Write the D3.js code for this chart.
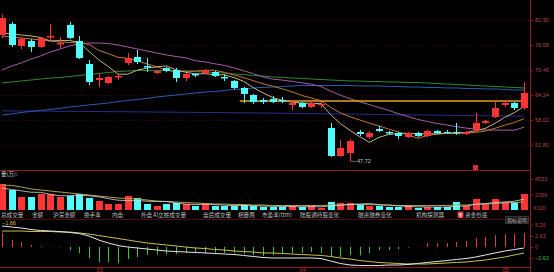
<!DOCTYPE html>
<html>
<head>
<meta charset="utf-8">
<script src="https://cdn.jsdelivr.net/npm/d3@7/dist/d3.min.js"></script>
<style>
html, body { margin: 0; padding: 0; background: #000; overflow: hidden; }
svg { display: block; }
</style>
</head>
<body>
<script>
// daily candles
const opens  = [79.17,81.91,76.43,77.68,76.19,78.55,76.81,81.66,77.68,71.96,67.97,67.23,68.60,72.21,73.70,71.46,69.72,70.96,70.46,68.47,69.47,69.72,69.97,68.72,67.73,65.99,64.24,63.00,63.25,63.00,61.76,62.25,61.26,61.76,56.03,49.07,49.81,55.04,53.79,55.78,55.04,54.79,53.79,54.79,54.04,55.29,55.04,55.04,54.54,55.53,57.28,58.77,61.76,62.25,61.01];
const highs  = [84.40,82.41,78.67,78.18,78.67,81.91,78.67,82.41,78.92,72.95,69.72,68.97,69.22,74.69,75.44,73.45,70.46,71.21,70.96,69.72,69.72,70.71,70.21,69.47,67.97,66.23,64.49,63.50,63.99,63.75,63.00,62.50,62.75,62.50,57.28,53.05,53.30,55.53,55.29,56.53,55.29,55.04,55.04,55.04,55.53,55.53,55.53,57.28,55.29,59.77,58.02,63.00,63.00,62.50,67.48];
const lows   = [78.42,76.19,75.69,74.94,75.94,77.93,75.94,78.18,73.20,66.73,66.23,66.98,67.97,71.71,71.96,69.97,69.47,69.97,67.48,67.73,68.72,69.47,68.72,67.73,65.74,62.25,62.00,62.00,62.25,62.25,60.51,61.01,61.01,61.01,48.82,48.82,47.72,54.04,53.30,55.04,54.29,53.30,53.55,53.79,53.79,54.54,54.54,54.29,54.29,55.04,57.03,58.52,61.26,60.51,60.51];
const closes = [83.40,76.68,78.18,76.19,78.43,78.92,77.18,78.43,73.45,67.48,68.47,68.72,68.97,73.45,72.45,71.09,70.21,70.21,68.47,69.47,69.10,70.46,68.97,68.35,65.99,64.49,62.50,62.50,62.50,62.63,62.25,61.26,62.25,62.00,49.07,51.06,52.80,54.54,54.79,55.29,54.66,54.04,54.79,54.04,55.29,54.79,54.79,54.79,55.04,57.28,57.77,61.01,62.25,61.01,64.74];

// moving averages shown on the price panel
const ma5   = [79.67,79.42,79.17,78.92,78.57,77.68,77.78,77.83,77.28,75.09,73.00,71.31,69.42,69.42,70.41,70.94,71.24,71.48,70.49,69.89,69.49,69.54,69.29,69.27,68.57,67.65,66.06,64.77,63.60,62.93,62.48,62.23,62.18,62.08,59.37,57.13,55.44,53.89,52.45,53.70,54.42,54.67,54.72,54.57,54.57,54.59,54.74,54.74,54.94,55.34,55.93,57.18,58.67,59.86,61.36];
const ma10  = [78.92,78.67,78.43,78.18,77.93,77.68,77.43,77.31,77.18,76.83,75.34,74.54,73.62,73.35,72.75,71.97,71.27,70.45,69.95,70.15,70.21,70.39,70.39,69.88,69.23,68.57,67.80,67.03,66.43,65.75,65.06,64.14,63.47,62.84,61.15,59.80,58.83,58.04,57.26,56.53,55.77,55.05,54.30,53.51,54.13,54.50,54.70,54.73,54.75,54.95,55.26,55.96,56.71,57.40,58.35];
const ma20  = [70.46,71.46,72.21,73.20,73.95,74.94,75.69,76.43,77.06,77.18,77.18,77.06,76.68,76.19,75.69,75.19,74.69,74.20,73.82,73.50,72.78,72.47,72.01,71.61,70.99,70.27,69.54,68.75,68.20,67.95,67.64,67.27,66.93,66.36,65.19,64.19,63.32,62.53,61.86,61.13,60.41,59.59,58.89,58.17,57.64,57.15,56.77,56.38,56.01,55.73,55.51,55.51,55.51,55.46,56.23];
const ma60  = [67.23,67.48,67.73,67.97,68.22,68.47,68.60,68.85,69.10,69.34,69.59,69.84,70.09,70.21,70.34,70.34,70.34,70.34,70.21,70.21,70.09,69.97,69.84,69.72,69.47,69.34,69.10,68.97,68.72,68.60,68.47,68.35,68.22,68.10,67.97,67.85,67.73,67.73,67.60,67.60,67.48,67.48,67.35,67.35,67.23,67.10,66.98,66.86,66.73,66.61,66.48,66.36,66.23,66.11,65.99];
const ma120 = [59.27,59.52,59.89,60.14,60.39,60.64,60.89,61.26,61.51,61.76,62.00,62.25,62.63,62.88,63.12,63.37,63.75,63.99,64.24,64.49,64.74,64.99,65.11,65.36,65.61,65.74,65.99,66.11,66.23,66.36,66.48,66.61,66.61,66.61,66.61,66.61,66.61,66.48,66.48,66.48,66.36,66.36,66.23,66.23,66.11,66.11,65.99,65.99,65.86,65.86,65.74,65.74,65.61,65.49,65.49];
const ma250 = [60.30,60.28,60.26,60.25,60.23,60.21,60.19,60.17,60.16,60.14,60.12,60.10,60.08,60.06,60.04,60.02,60.00,59.98,59.96,59.94,59.92,59.90,59.88,59.85,59.83,59.80,59.78,59.75,59.72,59.70,59.67,59.64,59.61,59.58,59.55,59.52,59.49,59.46,59.43,59.40,59.37,59.34,59.31,59.28,59.25,59.22,59.19,59.16,59.13,59.10,59.08,59.06,59.04,59.02,59.00];
const levelPrice = 62.75, levelFrom = 25;
const priceTicks = [82.90, 76.68, 70.46, 64.24, 58.02, 51.80];

// volume (x100)
const vols    = [3801,2924,1901,1901,2339,2339,1901,2047,2339,1754,1316,877,877,2047,1754,877,585,877,1023,877,585,877,585,585,585,731,585,439,439,439,585,439,585,292,1170,1023,1023,877,585,585,439,439,585,292,439,439,439,1170,585,1608,877,1608,1170,1170,2339];
const volMa5  = [3200,3000,2800,2600,2580,2280,2080,2090,2170,2080,1930,1660,1430,1370,1370,1290,1230,1230,1020,850,790,850,790,700,640,670,610,580,550,520,490,470,500,460,600,700,820,880,940,800,700,590,510,470,450,420,430,560,570,850,940,1090,1170,1280,1580];
const volMa10 = [3655,3582,3363,3070,2924,2778,2632,2485,2339,2193,2047,1901,1754,1681,1608,1462,1316,1243,1170,1097,1023,950,877,877,804,804,731,731,658,658,658,658,658,658,731,731,804,804,804,731,731,658,658,658,658,658,658,731,731,804,877,950,1023,1097,1170];
const volTicks = [4533, 2266];

// MACD
const hist = [3.35,1.67,1.20,0.48,0.2,0.1,-0.1,-0.72,-1.43,-2.63,-3.59,-3.59,-3.82,-2.87,-2.39,-1.91,-1.67,-1.67,-1.67,-1.43,-1.43,-1.43,-1.3,-1.43,-1.43,-1.67,-1.91,-2.15,-1.91,-1.43,-1.43,-1.43,-1.20,-1.43,-2.39,-2.39,-1.91,-2.0,-1.43,-0.72,-0.72,-0.48,-0.15,0.1,0.96,0.96,0.96,1.20,1.43,2.15,2.39,2.87,3.11,3.11,3.35];
const dif  = [5.02,4.78,4.54,4.18,3.94,3.82,3.70,3.47,3.23,2.63,1.67,0.96,0.36,0,-0.24,-0.48,-0.72,-0.96,-1.08,-1.20,-1.31,-1.43,-1.55,-1.67,-1.79,-2.03,-2.27,-2.51,-2.63,-2.63,-2.63,-2.63,-2.63,-2.75,-3.35,-3.94,-4.30,-4.42,-4.42,-4.42,-4.30,-4.30,-4.18,-3.94,-3.70,-3.47,-3.23,-2.99,-2.75,-2.39,-1.91,-1.43,-0.96,-0.60,-0.24];
const dea  = [3.82,3.82,3.82,3.70,3.70,3.70,3.59,3.59,3.35,3.11,2.75,2.39,2.03,1.67,1.31,0.96,0.72,0.48,0.24,0,-0.24,-0.36,-0.60,-0.72,-0.96,-1.08,-1.20,-1.43,-1.43,-1.55,-1.67,-1.79,-1.91,-2.03,-2.27,-2.63,-2.87,-3.23,-3.47,-3.70,-3.82,-3.94,-4.06,-4.06,-4.06,-3.94,-3.82,-3.70,-3.59,-3.35,-3.11,-2.75,-2.39,-1.91,-1.43];
const macdTicks = [5.26, 2.63, 0, -2.63];
const macdValue = -1.66;

// month labels and tab names
const monthIdx = [10, 31, 52];
const monthLbl = ["03", "04", "05"];
const tabs = ["总成交量", "金额", "沪深金额", "换手率", "内盘", "外盘", "AI立桩成交量", "盘后成交量", "相量两", "市盈率(ttm)", "陆股通持股变化", "融资融券变化", "机构探测器", "资金抄底"];
const tabX = [1, 32, 53, 84, 112, 141, 153, 203, 238, 262, 300, 358, 416, 465];

const W = 554, H = 272, AX = 530;
const RED = "#ff3434", CYAN = "#52ffff", GREEN = "#3cc83c", AXC = "#8c1c1c";
const FONT = "'Liberation Sans', 'DejaVu Sans', sans-serif";
const CJK = "'Noto Sans CJK SC', sans-serif";

const svg = d3.select("body").append("svg")
  .attr("width", W).attr("height", H);
svg.append("rect").attr("width", W).attr("height", H).attr("fill", "#000");

const idx = d3.range(closes.length);
const x = d3.scaleLinear().domain([0, closes.length - 1]).range([2, 524]);
const y = d3.scaleLinear().domain([51.80, 82.90]).range([145, 20]);
const yv = d3.scaleLinear().domain([0, 4533]).range([210, 179]);
const ym = d3.scaleLinear().domain([0, 2.63]).range([247, 236]);
const px = i => Math.round(x(i)) + 0.5;

// price grid
svg.append("g").selectAll("line").data(priceTicks).join("line")
  .attr("x1", 0).attr("x2", AX)
  .attr("y1", d => Math.round(y(d)) + 0.5).attr("y2", d => Math.round(y(d)) + 0.5)
  .attr("stroke", "#3c0c0c").attr("stroke-dasharray", "1,2");

// panel frames
const hl = (yy, c) => svg.append("line").attr("x1", 0).attr("x2", AX)
  .attr("y1", yy).attr("y2", yy).attr("stroke", c).attr("stroke-width", 1);
hl(170.5, AXC);
hl(219.5, "#4a1010");
hl(267.5, AXC);
svg.append("line").attr("x1", AX + 0.5).attr("x2", AX + 0.5)
  .attr("y1", 0).attr("y2", H).attr("stroke", AXC);

// moving averages
const maLine = arr => d3.line().x(i => x(i)).y(i => y(arr[i]))(idx);
[[ma250, "#2c2c8c"], [ma120, "#2a5cb0"], [ma60, "#2e8a2e"], [ma20, "#a85aa8"], [ma10, "#c07838"], [ma5, "#c8b488"]]
  .forEach(([arr, c]) => svg.append("path").attr("d", maLine(arr))
    .attr("fill", "none").attr("stroke", c).attr("stroke-width", 1));

// level line
svg.append("line")
  .attr("x1", x(levelFrom) - 4).attr("x2", AX - 2)
  .attr("y1", y(levelPrice)).attr("y2", y(levelPrice))
  .attr("stroke", "#e0a020").attr("stroke-width", 1.5);

// candles
const up = i => closes[i] >= opens[i];
const cg = svg.append("g");
cg.selectAll("line").data(idx).join("line")
  .attr("x1", px).attr("x2", px)
  .attr("y1", i => y(highs[i])).attr("y2", i => y(lows[i]))
  .attr("stroke", i => up(i) ? RED : CYAN);
cg.selectAll("rect").data(idx).join("rect")
  .attr("x", i => Math.round(x(i)) - 3).attr("width", 7)
  .attr("y", i => y(Math.max(opens[i], closes[i])))
  .attr("height", i => Math.max(1, Math.abs(y(opens[i]) - y(closes[i]))))
  .attr("fill", i => up(i) ? RED : CYAN);

// lowest price mark
const lo = d3.minIndex(lows);
svg.append("line").attr("x1", x(lo) + 1).attr("x2", x(lo) + 6)
  .attr("y1", y(lows[lo])).attr("y2", y(lows[lo])).attr("stroke", "#bbb").attr("stroke-width", 0.6);
svg.append("text").attr("x", x(lo) + 7).attr("y", y(lows[lo]) + 2)
  .attr("font-family", FONT).attr("font-size", 5.5).attr("fill", "#c8c8c8")
  .text(d3.format(".2f")(lows[lo]));

// price axis
const pa = svg.append("g").attr("transform", `translate(${AX},0)`)
  .call(d3.axisRight(y).tickValues(priceTicks).tickFormat(d3.format(".2f")).tickSize(3));
pa.select(".domain").remove();
pa.selectAll("line").attr("stroke", AXC);
pa.selectAll("text").attr("font-family", FONT).attr("font-size", 5.5).attr("fill", "#b04848").attr("dx", -1);

// volume
svg.append("g").selectAll("rect").data(idx).join("rect")
  .attr("x", i => Math.round(x(i)) - 3).attr("width", 7)
  .attr("y", i => yv(vols[i])).attr("height", i => yv(0) - yv(vols[i]))
  .attr("fill", i => up(i) ? RED : CYAN);
const vLine = arr => d3.line().x(i => x(i)).y(i => yv(arr[i]))(idx);
svg.append("path").attr("d", vLine(volMa10)).attr("fill", "none").attr("stroke", "#a8a050").attr("stroke-width", 1);
svg.append("path").attr("d", vLine(volMa5)).attr("fill", "none").attr("stroke", "#d8d8d8").attr("stroke-width", 0.8);
const va = svg.append("g").attr("transform", `translate(${AX},0)`)
  .call(d3.axisRight(yv).tickValues(volTicks).tickFormat(d3.format("d")).tickSize(3));
va.select(".domain").remove();
va.selectAll("line").attr("stroke", AXC);
va.selectAll("text").attr("font-family", FONT).attr("font-size", 5.5).attr("fill", "#b04848").attr("dx", -1);
svg.append("text").attr("x", AX + 3).attr("y", yv(0) - 0.5)
  .attr("font-family", FONT).attr("font-size", 5.5).attr("fill", "#b04848").text("X100");
svg.append("text").attr("x", 1).attr("y", 176)
  .attr("font-family", CJK).attr("font-size", 5.5).attr("fill", "#d0d0d0").text("量(万):");

// small marker above the volume panel
svg.append("rect").attr("x", 473).attr("y", 165).attr("width", 5).attr("height", 5).attr("fill", "#d83030");

// tab row
svg.append("rect").attr("x", 0).attr("y", 210.5).attr("width", AX).attr("height", 8.5).attr("fill", "#000");
svg.append("g").selectAll("text").data(tabs).join("text")
  .attr("x", (d, i) => tabX[i]).attr("y", 217)
  .attr("font-family", CJK).attr("font-size", 5.6).attr("fill", "#bdbdbd")
  .text(d => d);
svg.append("rect").attr("x", 457.5).attr("y", 211.5).attr("width", 6).attr("height", 6).attr("fill", "#e03030");
svg.append("text").attr("x", 460.5).attr("y", 216.5).attr("text-anchor", "middle")
  .attr("font-family", CJK).attr("font-size", 4.5).attr("fill", "#fff").text("资");
svg.append("rect").attr("x", 505.5).attr("y", 216.5).attr("width", 23).attr("height", 7)
  .attr("fill", "#141414").attr("stroke", "#505050").attr("stroke-width", 0.6);
svg.append("text").attr("x", 517).attr("y", 222).attr("text-anchor", "middle")
  .attr("font-family", CJK).attr("font-size", 5).attr("fill", "#c0c0c0").text("指标说明");

// MACD
svg.append("g").selectAll("line").data(idx).join("line")
  .attr("x1", px).attr("x2", px)
  .attr("y1", ym(0)).attr("y2", i => ym(hist[i]))
  .attr("stroke", i => hist[i] >= 0 ? "#e03c3c" : GREEN).attr("stroke-width", 1);
const mLine = arr => d3.line().x(i => x(i)).y(i => ym(arr[i]))(idx);
svg.append("path").attr("d", mLine(dea)).attr("fill", "none").attr("stroke", "#c8c050").attr("stroke-width", 1);
svg.append("path").attr("d", mLine(dif)).attr("fill", "none").attr("stroke", "#e8e8e8").attr("stroke-width", 1);
const ma = svg.append("g").attr("transform", `translate(${AX},0)`)
  .call(d3.axisRight(ym).tickValues(macdTicks).tickFormat(d => d === 0 ? "0" : d3.format(".2f")(d)).tickSize(3));
ma.select(".domain").remove();
ma.selectAll("line").attr("stroke", AXC);
ma.selectAll("text").attr("font-family", FONT).attr("font-size", 5.5).attr("dx", -1)
  .attr("fill", d => d < 0 ? "#3cb83c" : "#b04848");
svg.append("text").attr("x", 2).attr("y", 225)
  .attr("font-family", FONT).attr("font-size", 5.5).attr("fill", "#e0c040")
  .text(d3.format(".2f")(macdValue));

// months
svg.append("g").selectAll("text").data(monthIdx).join("text")
  .attr("x", i => x(i) + 1).attr("y", 272).attr("text-anchor", "middle")
  .attr("font-family", FONT).attr("font-size", 5.5).attr("fill", "#c03030")
  .text((d, k) => monthLbl[k]);
</script>
</body>
</html>
